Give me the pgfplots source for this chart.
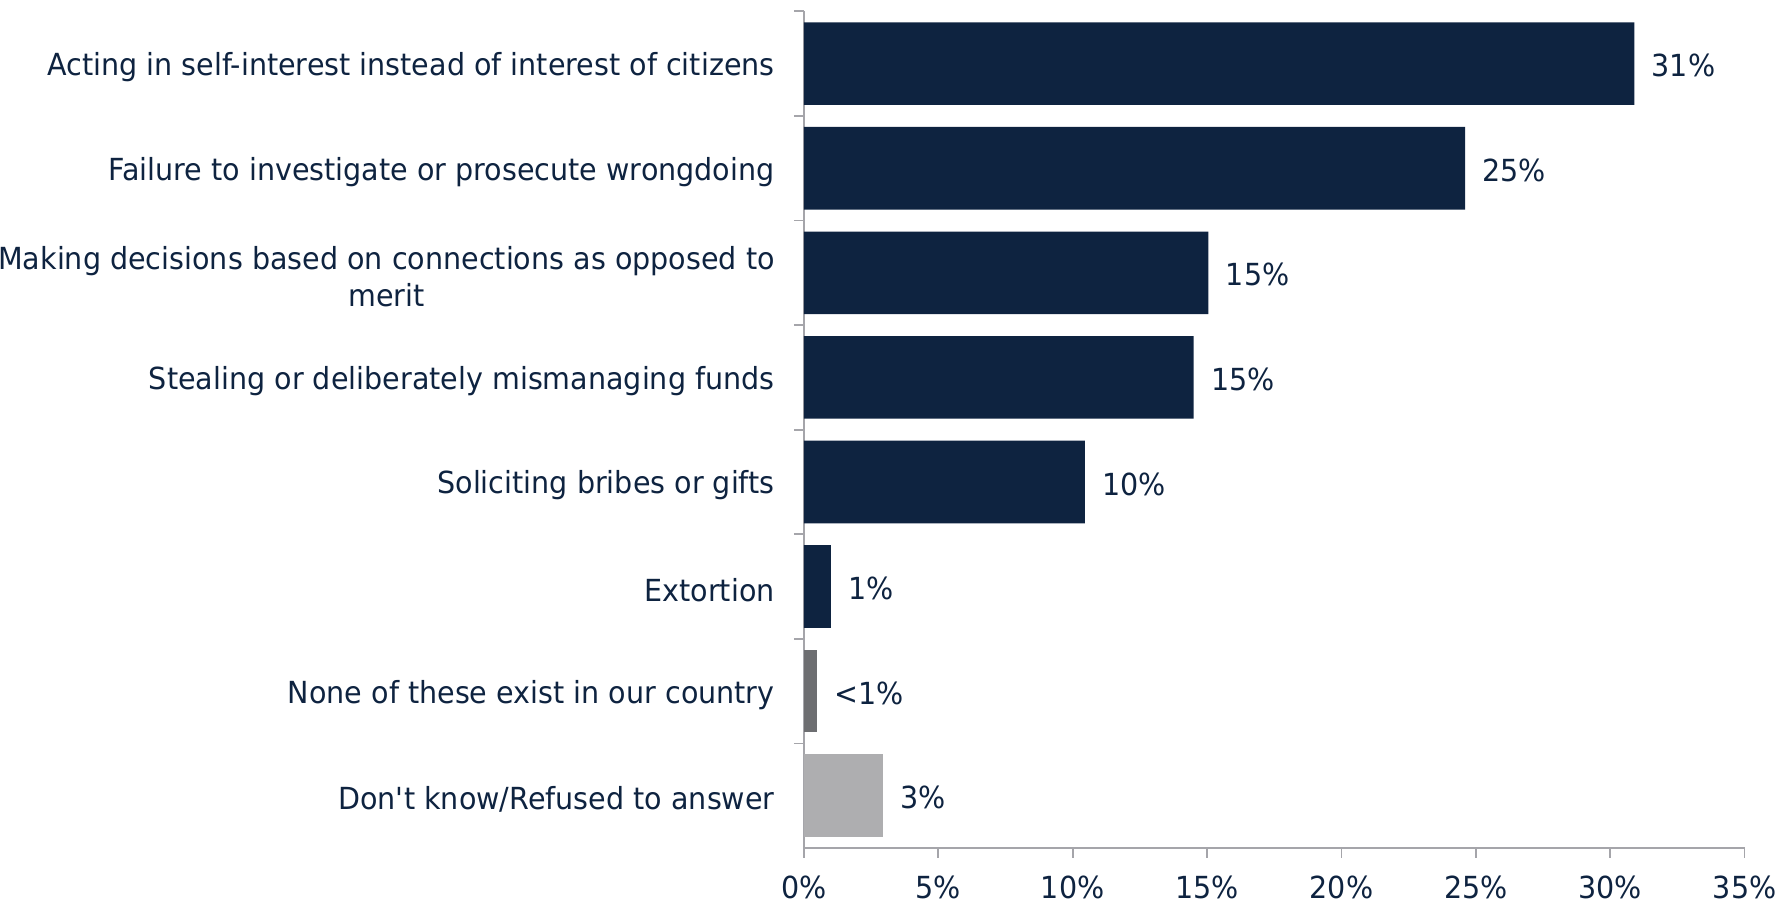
\documentclass[border=0pt]{standalone}
\usepackage{fontspec}
\setmainfont{DejaVu Sans}[FakeStretch=0.94]
\usepackage{pgfplots}
\pgfplotsset{compat=1.18}
\definecolor{navy}{RGB}{14,35,64}
\definecolor{dgray}{RGB}{109,110,113}
\definecolor{lgray}{RGB}{174,174,176}
\definecolor{axgray}{RGB}{165,165,170}
\newcommand{\lbl}{\fontsize{15.2}{18.5}\selectfont}
\begin{document}
\begin{tikzpicture}
\path[use as bounding box] (-402pt,-30pt) rectangle (486.5pt,424pt);
\begin{axis}[
  scale only axis, width=470.3pt, height=418.3pt,
  xbar, bar width=0.79, bar shift=0pt,
  xmin=0, xmax=35, ymin=-0.5, ymax=7.5,
  axis x line*=bottom, axis y line*=left,
  axis line style={axgray, line width=0.9pt},
  xtick={0,5,...,35},
  xticklabels={0\%,5\%,10\%,15\%,20\%,25\%,30\%,35\%},
  ytick={0.5,1.5,...,7.5},
  yticklabels={},
  extra y ticks={0,...,7},
  extra y tick labels={Don\textquotesingle t know/Refused to answer,
    None of these exist in our country,
    Extortion,
    Soliciting bribes or gifts,
    Stealing or deliberately mismanaging funds,
    {Making decisions based on connections as opposed to\\merit},
    Failure to investigate or prosecute wrongdoing,
    Acting in self-interest instead of interest of citizens},
  extra tick style={major tick length=0pt},
  tick align=outside,
  major tick length=5pt,
  tick style={axgray, line width=0.9pt},
  /pgf/number format/assume math mode=true,
  every tick label/.append style={font=\lbl, text=navy},
  yticklabel style={align=center, inner sep=0pt, xshift=-14.5pt, yshift=-1.8pt},
  xticklabel style={yshift=-5.5pt},
  nodes near coords,
  point meta=explicit symbolic,
  nodes near coords style={anchor=west, text=navy, font=\lbl, inner sep=0pt, xshift=8.5pt, yshift=-1pt},
  clip=false,
]
\addplot[fill=navy, draw=none] coordinates {
  (30.9,7) [31\%]
  (24.6,6) [25\%]
  (15.05,5) [15\%]
  (14.5,4) [15\%]
  (10.45,3) [10\%]
  (1.0,2) [1\%]
};
\addplot[fill=dgray, draw=none] coordinates {(0.5,1) [<1\%]};
\addplot[fill=lgray, draw=none] coordinates {(2.95,0) [3\%]};
\end{axis}
\end{tikzpicture}
\end{document}
